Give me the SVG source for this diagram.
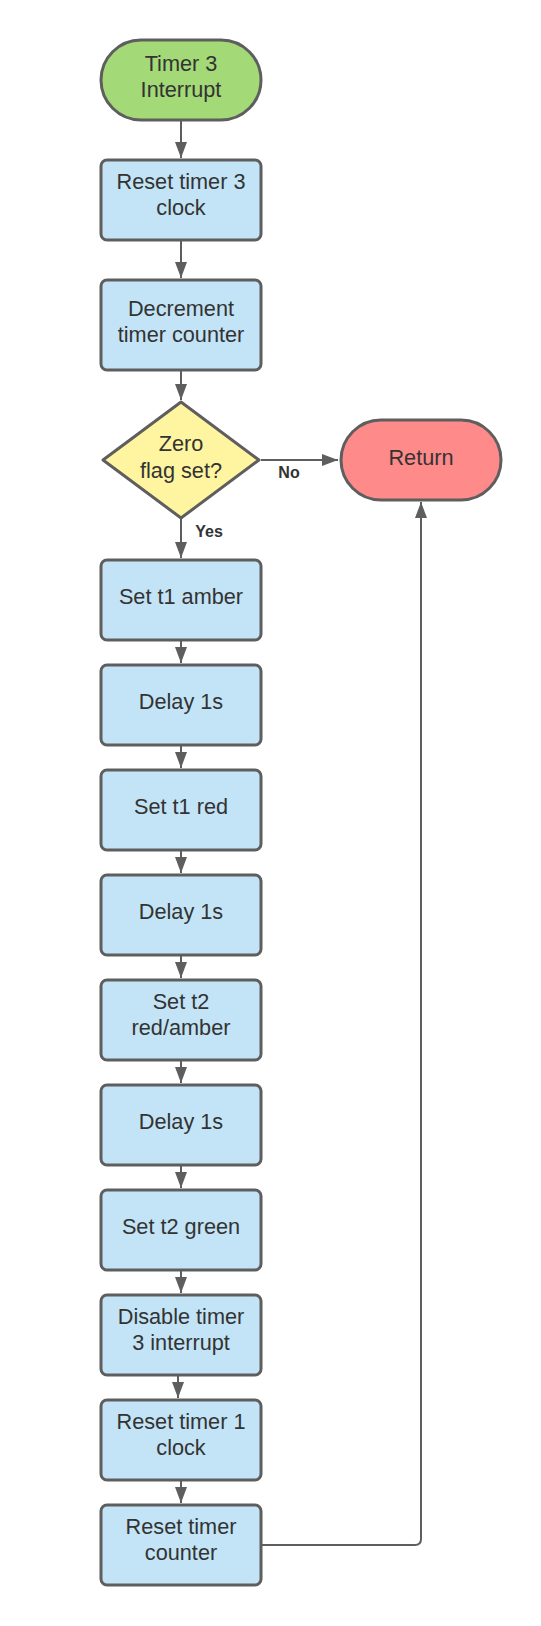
<svg xmlns="http://www.w3.org/2000/svg" width="541" height="1626" viewBox="0 0 541 1626">
<style>
.n{stroke:#5e5e5e;stroke-width:3}
.b{fill:#c2e4f6}
.t{font-family:"Liberation Sans",Arial,sans-serif;font-size:21.7px;fill:#333;text-anchor:middle}
.l{font-family:"Liberation Sans",Arial,sans-serif;font-size:16px;font-weight:bold;fill:#333;text-anchor:middle}
.c{fill:none;stroke:#5e5e5e;stroke-width:2}
</style>
<defs>
<marker id="ah" markerUnits="userSpaceOnUse" markerWidth="16" markerHeight="14" viewBox="0 0 16 14" refX="16" refY="7" orient="auto">
<path d="M0,1 L16,7 L0,13 Z" fill="#5e5e5e"/>
</marker>
</defs>
<rect width="541" height="1626" fill="#fff"/>
<g id="connectors">
<path class="c" d="M181,121 V158" marker-end="url(#ah)"/>
<path class="c" d="M181,241 V278" marker-end="url(#ah)"/>
<path class="c" d="M181,371 V400" marker-end="url(#ah)"/>
<path class="c" d="M181,519 V558" marker-end="url(#ah)"/>
<path class="c" d="M181,641 V663" marker-end="url(#ah)"/>
<path class="c" d="M181,746 V768" marker-end="url(#ah)"/>
<path class="c" d="M181,851 V873" marker-end="url(#ah)"/>
<path class="c" d="M181,956 V978" marker-end="url(#ah)"/>
<path class="c" d="M181,1061 V1083" marker-end="url(#ah)"/>
<path class="c" d="M181,1166 V1188" marker-end="url(#ah)"/>
<path class="c" d="M181,1271 V1293" marker-end="url(#ah)"/>
<path class="c" d="M178,1376 V1398" marker-end="url(#ah)"/>
<path class="c" d="M181,1481 V1503" marker-end="url(#ah)"/>
<path class="c" d="M261,460 H338" marker-end="url(#ah)"/>
<path class="c" d="M262,1545 H415 Q421,1545 421,1539 V502" marker-end="url(#ah)"/>
<text class="l" x="289" y="478">No</text>
<text class="l" x="209" y="537">Yes</text>
</g>
<g id="start">
<rect class="n" x="101" y="40" width="160" height="80" rx="40" fill="#a3d977"/>
<text class="t" x="181" y="71">Timer 3</text>
<text class="t" x="181" y="97">Interrupt</text>
</g>
<g id="reset3">
<rect class="n b" x="101" y="160" width="160" height="80" rx="6"/>
<text class="t" x="181" y="189">Reset timer 3</text>
<text class="t" x="181" y="215">clock</text>
</g>
<g id="decrement">
<rect class="n b" x="101" y="280" width="160" height="90" rx="6"/>
<text class="t" x="181" y="316">Decrement</text>
<text class="t" x="181" y="342">timer counter</text>
</g>
<g id="zero">
<path class="n" d="M181,402 L259,460 L181,518 L103,460 Z" fill="#fff5a0" stroke-linejoin="round"/>
<text class="t" x="181" y="451">Zero</text>
<text class="t" x="181" y="478">flag set?</text>
</g>
<g id="return">
<rect class="n" x="341" y="420" width="160" height="80" rx="40" fill="#ff8a8a"/>
<text class="t" x="421" y="465">Return</text>
</g>
<g id="t1amber">
<rect class="n b" x="101" y="560" width="160" height="80" rx="6"/>
<text class="t" x="181" y="604">Set t1 amber</text>
</g>
<g id="delay1">
<rect class="n b" x="101" y="665" width="160" height="80" rx="6"/>
<text class="t" x="181" y="709">Delay 1s</text>
</g>
<g id="t1red">
<rect class="n b" x="101" y="770" width="160" height="80" rx="6"/>
<text class="t" x="181" y="814">Set t1 red</text>
</g>
<g id="delay2">
<rect class="n b" x="101" y="875" width="160" height="80" rx="6"/>
<text class="t" x="181" y="919">Delay 1s</text>
</g>
<g id="t2redamber">
<rect class="n b" x="101" y="980" width="160" height="80" rx="6"/>
<text class="t" x="181" y="1009">Set t2</text>
<text class="t" x="181" y="1035">red/amber</text>
</g>
<g id="delay3">
<rect class="n b" x="101" y="1085" width="160" height="80" rx="6"/>
<text class="t" x="181" y="1129">Delay 1s</text>
</g>
<g id="t2green">
<rect class="n b" x="101" y="1190" width="160" height="80" rx="6"/>
<text class="t" x="181" y="1234">Set t2 green</text>
</g>
<g id="disable">
<rect class="n b" x="101" y="1295" width="160" height="80" rx="6"/>
<text class="t" x="181" y="1324">Disable timer</text>
<text class="t" x="181" y="1350">3 interrupt</text>
</g>
<g id="reset1">
<rect class="n b" x="101" y="1400" width="160" height="80" rx="6"/>
<text class="t" x="181" y="1429">Reset timer 1</text>
<text class="t" x="181" y="1455">clock</text>
</g>
<g id="resetcounter">
<rect class="n b" x="101" y="1505" width="160" height="80" rx="6"/>
<text class="t" x="181" y="1534">Reset timer</text>
<text class="t" x="181" y="1560">counter</text>
</g>
</svg>
